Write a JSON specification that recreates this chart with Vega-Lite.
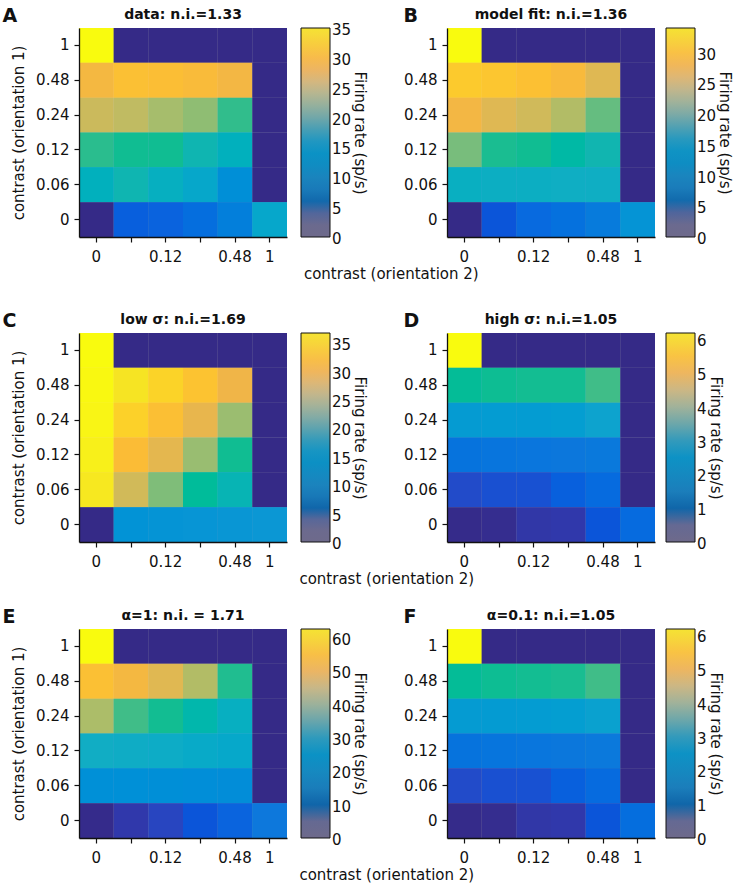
{
"$schema": "https://vega.github.io/schema/vega-lite/v6.json",
"padding": {"left": 2, "top": 7, "right": 8, "bottom": 3},
"background": "white",
"datasets": {
"A": [
{"o1":"1","o2":"0","rate":35},{"o1":"1","o2":"0.06","rate":0},{"o1":"1","o2":"0.12","rate":0},{"o1":"1","o2":"0.24","rate":0},{"o1":"1","o2":"0.48","rate":0},{"o1":"1","o2":"1","rate":0},
{"o1":"0.48","o2":"0","rate":28.7},{"o1":"0.48","o2":"0.06","rate":30.1},{"o1":"0.48","o2":"0.12","rate":29.9},{"o1":"0.48","o2":"0.24","rate":29.4},{"o1":"0.48","o2":"0.48","rate":28.4},{"o1":"0.48","o2":"1","rate":0},
{"o1":"0.24","o2":"0","rate":25.2},{"o1":"0.24","o2":"0.06","rate":24.5},{"o1":"0.24","o2":"0.12","rate":23.1},{"o1":"0.24","o2":"0.24","rate":22.0},{"o1":"0.24","o2":"0.48","rate":18.5},{"o1":"0.24","o2":"1","rate":0},
{"o1":"0.12","o2":"0","rate":18.2},{"o1":"0.12","o2":"0.06","rate":17.5},{"o1":"0.12","o2":"0.12","rate":17.5},{"o1":"0.12","o2":"0.24","rate":15.7},{"o1":"0.12","o2":"0.48","rate":14.7},{"o1":"0.12","o2":"1","rate":0},
{"o1":"0.06","o2":"0","rate":14.7},{"o1":"0.06","o2":"0.06","rate":15.7},{"o1":"0.06","o2":"0.12","rate":14.4},{"o1":"0.06","o2":"0.24","rate":13.0},{"o1":"0.06","o2":"0.48","rate":9.5},{"o1":"0.06","o2":"1","rate":0},
{"o1":"0","o2":"0","rate":0},{"o1":"0","o2":"0.06","rate":4.5},{"o1":"0","o2":"0.12","rate":4.9},{"o1":"0","o2":"0.24","rate":5.9},{"o1":"0","o2":"0.48","rate":7.7},{"o1":"0","o2":"1","rate":12.9}
],
"B": [
{"o1":"1","o2":"0","rate":34},{"o1":"1","o2":"0.06","rate":0},{"o1":"1","o2":"0.12","rate":0},{"o1":"1","o2":"0.24","rate":0},{"o1":"1","o2":"0.48","rate":0},{"o1":"1","o2":"1","rate":0},
{"o1":"0.48","o2":"0","rate":30.2},{"o1":"0.48","o2":"0.06","rate":29.8},{"o1":"0.48","o2":"0.12","rate":29.3},{"o1":"0.48","o2":"0.24","rate":28.4},{"o1":"0.48","o2":"0.48","rate":25.8},{"o1":"0.48","o2":"1","rate":0},
{"o1":"0.24","o2":"0","rate":27.6},{"o1":"0.24","o2":"0.06","rate":25.8},{"o1":"0.24","o2":"0.12","rate":24.8},{"o1":"0.24","o2":"0.24","rate":23.1},{"o1":"0.24","o2":"0.48","rate":19.7},{"o1":"0.24","o2":"1","rate":0},
{"o1":"0.12","o2":"0","rate":20.4},{"o1":"0.12","o2":"0.06","rate":17.2},{"o1":"0.12","o2":"0.12","rate":17.0},{"o1":"0.12","o2":"0.24","rate":16.0},{"o1":"0.12","o2":"0.48","rate":15.3},{"o1":"0.12","o2":"1","rate":0},
{"o1":"0.06","o2":"0","rate":13.9},{"o1":"0.06","o2":"0.06","rate":13.8},{"o1":"0.06","o2":"0.12","rate":13.8},{"o1":"0.06","o2":"0.24","rate":13.7},{"o1":"0.06","o2":"0.48","rate":13.7},{"o1":"0.06","o2":"1","rate":0},
{"o1":"0","o2":"0","rate":0},{"o1":"0","o2":"0.06","rate":3.4},{"o1":"0","o2":"0.12","rate":5.4},{"o1":"0","o2":"0.24","rate":6.1},{"o1":"0","o2":"0.48","rate":7.1},{"o1":"0","o2":"1","rate":9.9}
],
"C": [
{"o1":"1","o2":"0","rate":36.8},{"o1":"1","o2":"0.06","rate":0},{"o1":"1","o2":"0.12","rate":0},{"o1":"1","o2":"0.24","rate":0},{"o1":"1","o2":"0.48","rate":0},{"o1":"1","o2":"1","rate":0},
{"o1":"0.48","o2":"0","rate":36.6},{"o1":"0.48","o2":"0.06","rate":35.0},{"o1":"0.48","o2":"0.12","rate":33.5},{"o1":"0.48","o2":"0.24","rate":32.0},{"o1":"0.48","o2":"0.48","rate":29.4},{"o1":"0.48","o2":"1","rate":0},
{"o1":"0.24","o2":"0","rate":36.3},{"o1":"0.24","o2":"0.06","rate":33.3},{"o1":"0.24","o2":"0.12","rate":31.6},{"o1":"0.24","o2":"0.24","rate":28.7},{"o1":"0.24","o2":"0.48","rate":23.7},{"o1":"0.24","o2":"1","rate":0},
{"o1":"0.12","o2":"0","rate":35.9},{"o1":"0.12","o2":"0.06","rate":31.3},{"o1":"0.12","o2":"0.12","rate":28.4},{"o1":"0.12","o2":"0.24","rate":23.6},{"o1":"0.12","o2":"0.48","rate":18.4},{"o1":"0.12","o2":"1","rate":0},
{"o1":"0.06","o2":"0","rate":35.3},{"o1":"0.06","o2":"0.06","rate":26.9},{"o1":"0.06","o2":"0.12","rate":22.4},{"o1":"0.06","o2":"0.24","rate":18.0},{"o1":"0.06","o2":"0.48","rate":16.2},{"o1":"0.06","o2":"1","rate":0},
{"o1":"0","o2":"0","rate":0},{"o1":"0","o2":"0.06","rate":10.5},{"o1":"0","o2":"0.12","rate":10.7},{"o1":"0","o2":"0.24","rate":10.8},{"o1":"0","o2":"0.48","rate":10.9},{"o1":"0","o2":"1","rate":11.0}
],
"D": [
{"o1":"1","o2":"0","rate":6.18},{"o1":"1","o2":"0.06","rate":0},{"o1":"1","o2":"0.12","rate":0},{"o1":"1","o2":"0.24","rate":0},{"o1":"1","o2":"0.48","rate":0},{"o1":"1","o2":"1","rate":0},
{"o1":"0.48","o2":"0","rate":3.05},{"o1":"0.48","o2":"0.06","rate":3.08},{"o1":"0.48","o2":"0.12","rate":3.1},{"o1":"0.48","o2":"0.24","rate":3.1},{"o1":"0.48","o2":"0.48","rate":3.4},{"o1":"0.48","o2":"1","rate":0},
{"o1":"0.24","o2":"0","rate":1.95},{"o1":"0.24","o2":"0.06","rate":1.97},{"o1":"0.24","o2":"0.12","rate":1.98},{"o1":"0.24","o2":"0.24","rate":2.02},{"o1":"0.24","o2":"0.48","rate":2.15},{"o1":"0.24","o2":"1","rate":0},
{"o1":"0.12","o2":"0","rate":1.15},{"o1":"0.12","o2":"0.06","rate":1.18},{"o1":"0.12","o2":"0.12","rate":1.2},{"o1":"0.12","o2":"0.24","rate":1.22},{"o1":"0.12","o2":"0.48","rate":1.26},{"o1":"0.12","o2":"1","rate":0},
{"o1":"0.06","o2":"0","rate":0.5},{"o1":"0.06","o2":"0.06","rate":0.56},{"o1":"0.06","o2":"0.12","rate":0.57},{"o1":"0.06","o2":"0.24","rate":0.8},{"o1":"0.06","o2":"0.48","rate":1.0},{"o1":"0.06","o2":"1","rate":0},
{"o1":"0","o2":"0","rate":0.02},{"o1":"0","o2":"0.06","rate":0.06},{"o1":"0","o2":"0.12","rate":0.25},{"o1":"0","o2":"0.24","rate":0.28},{"o1":"0","o2":"0.48","rate":0.62},{"o1":"0","o2":"1","rate":1.0}
],
"E": [
{"o1":"1","o2":"0","rate":62.7},{"o1":"1","o2":"0.06","rate":0},{"o1":"1","o2":"0.12","rate":0},{"o1":"1","o2":"0.24","rate":0},{"o1":"1","o2":"0.48","rate":0},{"o1":"1","o2":"1","rate":0},
{"o1":"0.48","o2":"0","rate":53.9},{"o1":"0.48","o2":"0.06","rate":51.4},{"o1":"0.48","o2":"0.12","rate":47.7},{"o1":"0.48","o2":"0.24","rate":42.6},{"o1":"0.48","o2":"0.48","rate":32.0},{"o1":"0.48","o2":"1","rate":0},
{"o1":"0.24","o2":"0","rate":42.0},{"o1":"0.24","o2":"0.06","rate":34.5},{"o1":"0.24","o2":"0.12","rate":31.4},{"o1":"0.24","o2":"0.24","rate":28.8},{"o1":"0.24","o2":"0.48","rate":25.7},{"o1":"0.24","o2":"1","rate":0},
{"o1":"0.12","o2":"0","rate":25.0},{"o1":"0.12","o2":"0.06","rate":24.8},{"o1":"0.12","o2":"0.12","rate":24.6},{"o1":"0.12","o2":"0.24","rate":24.0},{"o1":"0.12","o2":"0.48","rate":23.4},{"o1":"0.12","o2":"1","rate":0},
{"o1":"0.06","o2":"0","rate":17.4},{"o1":"0.06","o2":"0.06","rate":17.2},{"o1":"0.06","o2":"0.12","rate":17.0},{"o1":"0.06","o2":"0.24","rate":16.8},{"o1":"0.06","o2":"0.48","rate":16.6},{"o1":"0.06","o2":"1","rate":0},
{"o1":"0","o2":"0","rate":0.3},{"o1":"0","o2":"0.06","rate":2.8},{"o1":"0","o2":"0.12","rate":4.4},{"o1":"0","o2":"0.24","rate":6.3},{"o1":"0","o2":"0.48","rate":8.8},{"o1":"0","o2":"1","rate":12.5}
],
"F": [
{"o1":"1","o2":"0","rate":6.18},{"o1":"1","o2":"0.06","rate":0},{"o1":"1","o2":"0.12","rate":0},{"o1":"1","o2":"0.24","rate":0},{"o1":"1","o2":"0.48","rate":0},{"o1":"1","o2":"1","rate":0},
{"o1":"0.48","o2":"0","rate":3.05},{"o1":"0.48","o2":"0.06","rate":3.08},{"o1":"0.48","o2":"0.12","rate":3.1},{"o1":"0.48","o2":"0.24","rate":3.12},{"o1":"0.48","o2":"0.48","rate":3.4},{"o1":"0.48","o2":"1","rate":0},
{"o1":"0.24","o2":"0","rate":1.95},{"o1":"0.24","o2":"0.06","rate":1.96},{"o1":"0.24","o2":"0.12","rate":1.98},{"o1":"0.24","o2":"0.24","rate":2.02},{"o1":"0.24","o2":"0.48","rate":2.12},{"o1":"0.24","o2":"1","rate":0},
{"o1":"0.12","o2":"0","rate":1.14},{"o1":"0.12","o2":"0.06","rate":1.17},{"o1":"0.12","o2":"0.12","rate":1.19},{"o1":"0.12","o2":"0.24","rate":1.21},{"o1":"0.12","o2":"0.48","rate":1.25},{"o1":"0.12","o2":"1","rate":0},
{"o1":"0.06","o2":"0","rate":0.5},{"o1":"0.06","o2":"0.06","rate":0.56},{"o1":"0.06","o2":"0.12","rate":0.57},{"o1":"0.06","o2":"0.24","rate":0.8},{"o1":"0.06","o2":"0.48","rate":1.0},{"o1":"0.06","o2":"1","rate":0},
{"o1":"0","o2":"0","rate":0.02},{"o1":"0","o2":"0.06","rate":0.06},{"o1":"0","o2":"0.12","rate":0.25},{"o1":"0","o2":"0.24","rate":0.28},{"o1":"0","o2":"0.48","rate":0.62},{"o1":"0","o2":"1","rate":1.05}
]
},
"config": {
"font": "DejaVu Sans",
"view": {"stroke": null},
"axis": {"labelFont": "DejaVu Sans", "labelFontSize": 15, "labelColor": "#111", "titleFont": "DejaVu Sans", "titleFontSize": 15, "titleFontWeight": "normal", "titleColor": "#111", "domainColor": "#111", "tickColor": "#111", "tickSize": 5, "labelPadding": 5, "domainWidth": 1.3, "tickWidth": 1.2, "grid": false},
"axisX": {"labelAngle": 0, "title": null, "labelPadding": 7},
"axisY": {"titlePadding": 9},
"legend": {"gradientLength": 209, "gradientThickness": 29, "gradientStrokeColor": "#111", "gradientStrokeWidth": 1, "labelFont": "DejaVu Sans", "labelFontSize": 15, "labelColor": "#111", "labelOffset": 4, "labelOverlap": false, "titleOrient": "right", "titleAngle": 90, "titleAnchor": "middle", "titleFont": "DejaVu Sans", "titleFontSize": 15, "titleFontWeight": "normal", "titleColor": "#111", "titlePadding": 1, "offset": 14, "padding": 0},
"title": {"font": "DejaVu Sans", "color": "#111"}
},
"resolve": {"scale": {"color": "independent", "fill": "independent"}, "legend": {"color": "independent", "fill": "independent"}},
"spacing": 30,
"vconcat": [
{
"hconcat": [
{
"title": {"text": "A", "anchor": "start", "frame": "bounds", "fontSize": 19, "fontWeight": "bold", "offset": -18, "dx": -9},
"resolve": {"scale": {"color": "independent", "fill": "independent"}},
"vconcat": [{
"data": {"name": "A"},
"title": {"text": "data: n.i.=1.33", "fontSize": 14, "fontWeight": "bold", "anchor": "middle", "frame": "group", "offset": 6},
"width": 208, "height": 209,
"encoding": {
"x": {"field": "o2", "type": "ordinal", "scale": {"domain": ["0","0.06","0.12","0.24","0.48","1"]}, "axis": {"labelExpr": "datum.value=='0.06'||datum.value=='0.24'?'':datum.label"}},
"y": {"field": "o1", "type": "ordinal", "scale": {"domain": ["1","0.48","0.24","0.12","0.06","0"]}, "axis": {"title": "contrast (orientation 1)"}}
},
"layer": [
{"mark": "rect", "encoding": {"fill": {"field": "rate", "type": "quantitative", "scale": {"zero": false, "nice": false, "domain": [0,1.75,3.5,5.25,7,8.75,10.5,12.25,14,15.75,17.5,19.25,21,22.75,24.5,26.25,28,29.75,31.5,33.25,35], "range": ["#6e6a8b","#6d6a8d","#5f6896","#0f62a6","#1673b4","#1c80bc","#1a86be","#0e8dc3","#0b92c5","#1b96c2","#3b9cb8","#62a4ae","#85aba5","#a3b29a","#bfb68e","#d8b77d","#ecb563","#f7b94c","#f9c541","#f6d53b","#f5e333"]}, "legend": {"title": "Firing rate (sp/s)", "values": [0,5,10,15,20,25,30,35], "encode": {"labels": {"update": {"baseline": {"value": "middle"}, "dy": {"value": 2}}}}}}}},
{"mark": "rect", "encoding": {"color": {"field": "rate", "type": "quantitative", "scale": {"zero": false, "nice": false, "domain": [0,1.75,3.5,5.25,7,8.75,10.5,12.25,14,15.75,17.5,19.25,21,22.75,24.5,26.25,28,29.75,31.5,33.25,35], "range": ["#352a87","#2f3aaf","#0b55d9","#0c67df","#0d78dc","#0b88d9","#0c97d4","#0ea3ce","#12adc4","#11b5b0","#10bd92","#40bd88","#78bd7c","#a0bd6f","#c0bb62","#dcb855","#f0b548","#fbbc36","#fccf2a","#f6e423","#f9fb0e"]}, "legend": null}}}
]
}]
},
{
"title": {"text": "B", "anchor": "start", "frame": "bounds", "fontSize": 19, "fontWeight": "bold", "offset": -18, "dx": 0},
"resolve": {"scale": {"color": "independent", "fill": "independent"}},
"vconcat": [{
"data": {"name": "B"},
"title": {"text": "model fit: n.i.=1.36", "fontSize": 14, "fontWeight": "bold", "anchor": "middle", "frame": "group", "offset": 6},
"width": 208, "height": 209,
"encoding": {
"x": {"field": "o2", "type": "ordinal", "scale": {"domain": ["0","0.06","0.12","0.24","0.48","1"]}, "axis": {"labelExpr": "datum.value=='0.06'||datum.value=='0.24'?'':datum.label"}},
"y": {"field": "o1", "type": "ordinal", "scale": {"domain": ["1","0.48","0.24","0.12","0.06","0"]}, "axis": {"title": null}}
},
"layer": [
{"mark": "rect", "encoding": {"fill": {"field": "rate", "type": "quantitative", "scale": {"zero": false, "nice": false, "domain": [0,1.7,3.4,5.1,6.8,8.5,10.2,11.9,13.6,15.3,17,18.7,20.4,22.1,23.8,25.5,27.2,28.9,30.6,32.3,34], "range": ["#6e6a8b","#6d6a8d","#5f6896","#0f62a6","#1673b4","#1c80bc","#1a86be","#0e8dc3","#0b92c5","#1b96c2","#3b9cb8","#62a4ae","#85aba5","#a3b29a","#bfb68e","#d8b77d","#ecb563","#f7b94c","#f9c541","#f6d53b","#f5e333"]}, "legend": {"title": "Firing rate (sp/s)", "offset": 11, "values": [0,5,10,15,20,25,30], "encode": {"labels": {"update": {"baseline": {"value": "middle"}, "dy": {"value": 2}}}}}}}},
{"mark": "rect", "encoding": {"color": {"field": "rate", "type": "quantitative", "scale": {"zero": false, "nice": false, "domain": [0,1.7,3.4,5.1,6.8,8.5,10.2,11.9,13.6,15.3,17,18.7,20.4,22.1,23.8,25.5,27.2,28.9,30.6,32.3,34], "range": ["#352a87","#2f3aaf","#0b55d9","#0c67df","#0d78dc","#0b88d9","#0c97d4","#0ea3ce","#12adc4","#11b5b0","#10bd92","#40bd88","#78bd7c","#a0bd6f","#c0bb62","#dcb855","#f0b548","#fbbc36","#fccf2a","#f6e423","#f9fb0e"]}, "legend": null}}}
]
}]
}
],
"spacing": 36,
"resolve": {"scale": {"color": "independent", "fill": "independent"}, "legend": {"color": "independent", "fill": "independent"}},
"title": {"text": "contrast (orientation 2)", "orient": "bottom", "anchor": "middle", "fontSize": 15, "fontWeight": "normal", "offset": 3, "dx": 24}
},
{
"spacing": 21,
"resolve": {"scale": {"color": "independent", "fill": "independent"}, "legend": {"color": "independent", "fill": "independent"}},
"vconcat": [
{
"hconcat": [
{
"title": {"text": "C", "anchor": "start", "frame": "bounds", "fontSize": 19, "fontWeight": "bold", "offset": -18, "dx": -9},
"resolve": {"scale": {"color": "independent", "fill": "independent"}},
"vconcat": [{
"data": {"name": "C"},
"title": {"text": "low σ: n.i.=1.69", "fontSize": 14, "fontWeight": "bold", "anchor": "middle", "frame": "group", "offset": 6},
"width": 208, "height": 209,
"encoding": {
"x": {"field": "o2", "type": "ordinal", "scale": {"domain": ["0","0.06","0.12","0.24","0.48","1"]}, "axis": {"labelExpr": "datum.value=='0.06'||datum.value=='0.24'?'':datum.label"}},
"y": {"field": "o1", "type": "ordinal", "scale": {"domain": ["1","0.48","0.24","0.12","0.06","0"]}, "axis": {"title": "contrast (orientation 1)"}}
},
"layer": [
{"mark": "rect", "encoding": {"fill": {"field": "rate", "type": "quantitative", "scale": {"zero": false, "nice": false, "domain": [0,1.84,3.68,5.52,7.36,9.2,11.04,12.88,14.72,16.56,18.4,20.24,22.08,23.92,25.76,27.6,29.44,31.28,33.12,34.96,36.8], "range": ["#6e6a8b","#6d6a8d","#5f6896","#0f62a6","#1673b4","#1c80bc","#1a86be","#0e8dc3","#0b92c5","#1b96c2","#3b9cb8","#62a4ae","#85aba5","#a3b29a","#bfb68e","#d8b77d","#ecb563","#f7b94c","#f9c541","#f6d53b","#f5e333"]}, "legend": {"title": "Firing rate (sp/s)", "values": [0,5,10,15,20,25,30,35], "encode": {"labels": {"update": {"baseline": {"value": "middle"}, "dy": {"value": 2}}}}}}}},
{"mark": "rect", "encoding": {"color": {"field": "rate", "type": "quantitative", "scale": {"zero": false, "nice": false, "domain": [0,1.84,3.68,5.52,7.36,9.2,11.04,12.88,14.72,16.56,18.4,20.24,22.08,23.92,25.76,27.6,29.44,31.28,33.12,34.96,36.8], "range": ["#352a87","#2f3aaf","#0b55d9","#0c67df","#0d78dc","#0b88d9","#0c97d4","#0ea3ce","#12adc4","#11b5b0","#10bd92","#40bd88","#78bd7c","#a0bd6f","#c0bb62","#dcb855","#f0b548","#fbbc36","#fccf2a","#f6e423","#f9fb0e"]}, "legend": null}}}
]
}]
},
{
"title": {"text": "D", "anchor": "start", "frame": "bounds", "fontSize": 19, "fontWeight": "bold", "offset": -18, "dx": 0},
"resolve": {"scale": {"color": "independent", "fill": "independent"}},
"vconcat": [{
"data": {"name": "D"},
"title": {"text": "high σ: n.i.=1.05", "fontSize": 14, "fontWeight": "bold", "anchor": "middle", "frame": "group", "offset": 6},
"width": 208, "height": 209,
"encoding": {
"x": {"field": "o2", "type": "ordinal", "scale": {"domain": ["0","0.06","0.12","0.24","0.48","1"]}, "axis": {"labelExpr": "datum.value=='0.06'||datum.value=='0.24'?'':datum.label"}},
"y": {"field": "o1", "type": "ordinal", "scale": {"domain": ["1","0.48","0.24","0.12","0.06","0"]}, "axis": {"title": null}}
},
"layer": [
{"mark": "rect", "encoding": {"fill": {"field": "rate", "type": "quantitative", "scale": {"zero": false, "nice": false, "domain": [0,0.309,0.618,0.927,1.236,1.545,1.854,2.163,2.472,2.781,3.09,3.399,3.708,4.017,4.326,4.635,4.944,5.253,5.562,5.871,6.18], "range": ["#6e6a8b","#6d6a8d","#5f6896","#0f62a6","#1673b4","#1c80bc","#1a86be","#0e8dc3","#0b92c5","#1b96c2","#3b9cb8","#62a4ae","#85aba5","#a3b29a","#bfb68e","#d8b77d","#ecb563","#f7b94c","#f9c541","#f6d53b","#f5e333"]}, "legend": {"title": "Firing rate (sp/s)", "offset": 11, "values": [0,1,2,3,4,5,6], "encode": {"labels": {"update": {"baseline": {"value": "middle"}, "dy": {"value": 2}}}}}}}},
{"mark": "rect", "encoding": {"color": {"field": "rate", "type": "quantitative", "scale": {"zero": false, "nice": false, "domain": [0,0.309,0.618,0.927,1.236,1.545,1.854,2.163,2.472,2.781,3.09,3.399,3.708,4.017,4.326,4.635,4.944,5.253,5.562,5.871,6.18], "range": ["#352a87","#2f3aaf","#0b55d9","#0c67df","#0d78dc","#0b88d9","#0c97d4","#0ea3ce","#12adc4","#11b5b0","#10bd92","#40bd88","#78bd7c","#a0bd6f","#c0bb62","#dcb855","#f0b548","#fbbc36","#fccf2a","#f6e423","#f9fb0e"]}, "legend": null}}}
]
}]
}
],
"spacing": 36,
"resolve": {"scale": {"color": "independent", "fill": "independent"}, "legend": {"color": "independent", "fill": "independent"}},
"title": {"text": "contrast (orientation 2)", "orient": "bottom", "anchor": "middle", "fontSize": 15, "fontWeight": "normal", "offset": 3, "dx": 24}
},
{
"hconcat": [
{
"title": {"text": "E", "anchor": "start", "frame": "bounds", "fontSize": 19, "fontWeight": "bold", "offset": -18, "dx": -9},
"resolve": {"scale": {"color": "independent", "fill": "independent"}},
"vconcat": [{
"data": {"name": "E"},
"title": {"text": "α=1: n.i. = 1.71", "fontSize": 14, "fontWeight": "bold", "anchor": "middle", "frame": "group", "offset": 6},
"width": 208, "height": 209,
"encoding": {
"x": {"field": "o2", "type": "ordinal", "scale": {"domain": ["0","0.06","0.12","0.24","0.48","1"]}, "axis": {"labelExpr": "datum.value=='0.06'||datum.value=='0.24'?'':datum.label"}},
"y": {"field": "o1", "type": "ordinal", "scale": {"domain": ["1","0.48","0.24","0.12","0.06","0"]}, "axis": {"title": "contrast (orientation 1)"}}
},
"layer": [
{"mark": "rect", "encoding": {"fill": {"field": "rate", "type": "quantitative", "scale": {"zero": false, "nice": false, "domain": [0,3.135,6.27,9.405,12.54,15.675,18.81,21.945,25.08,28.215,31.35,34.485,37.62,40.755,43.89,47.025,50.16,53.295,56.43,59.565,62.7], "range": ["#6e6a8b","#6d6a8d","#5f6896","#0f62a6","#1673b4","#1c80bc","#1a86be","#0e8dc3","#0b92c5","#1b96c2","#3b9cb8","#62a4ae","#85aba5","#a3b29a","#bfb68e","#d8b77d","#ecb563","#f7b94c","#f9c541","#f6d53b","#f5e333"]}, "legend": {"title": "Firing rate (sp/s)", "values": [0,10,20,30,40,50,60], "encode": {"labels": {"update": {"baseline": {"value": "middle"}, "dy": {"value": 2}}}}}}}},
{"mark": "rect", "encoding": {"color": {"field": "rate", "type": "quantitative", "scale": {"zero": false, "nice": false, "domain": [0,3.135,6.27,9.405,12.54,15.675,18.81,21.945,25.08,28.215,31.35,34.485,37.62,40.755,43.89,47.025,50.16,53.295,56.43,59.565,62.7], "range": ["#352a87","#2f3aaf","#0b55d9","#0c67df","#0d78dc","#0b88d9","#0c97d4","#0ea3ce","#12adc4","#11b5b0","#10bd92","#40bd88","#78bd7c","#a0bd6f","#c0bb62","#dcb855","#f0b548","#fbbc36","#fccf2a","#f6e423","#f9fb0e"]}, "legend": null}}}
]
}]
},
{
"title": {"text": "F", "anchor": "start", "frame": "bounds", "fontSize": 19, "fontWeight": "bold", "offset": -18, "dx": 0},
"resolve": {"scale": {"color": "independent", "fill": "independent"}},
"vconcat": [{
"data": {"name": "F"},
"title": {"text": "α=0.1: n.i.=1.05", "fontSize": 14, "fontWeight": "bold", "anchor": "middle", "frame": "group", "offset": 6},
"width": 208, "height": 209,
"encoding": {
"x": {"field": "o2", "type": "ordinal", "scale": {"domain": ["0","0.06","0.12","0.24","0.48","1"]}, "axis": {"labelExpr": "datum.value=='0.06'||datum.value=='0.24'?'':datum.label"}},
"y": {"field": "o1", "type": "ordinal", "scale": {"domain": ["1","0.48","0.24","0.12","0.06","0"]}, "axis": {"title": null}}
},
"layer": [
{"mark": "rect", "encoding": {"fill": {"field": "rate", "type": "quantitative", "scale": {"zero": false, "nice": false, "domain": [0,0.309,0.618,0.927,1.236,1.545,1.854,2.163,2.472,2.781,3.09,3.399,3.708,4.017,4.326,4.635,4.944,5.253,5.562,5.871,6.18], "range": ["#6e6a8b","#6d6a8d","#5f6896","#0f62a6","#1673b4","#1c80bc","#1a86be","#0e8dc3","#0b92c5","#1b96c2","#3b9cb8","#62a4ae","#85aba5","#a3b29a","#bfb68e","#d8b77d","#ecb563","#f7b94c","#f9c541","#f6d53b","#f5e333"]}, "legend": {"title": "Firing rate (sp/s)", "offset": 11, "values": [0,1,2,3,4,5,6], "encode": {"labels": {"update": {"baseline": {"value": "middle"}, "dy": {"value": 2}}}}}}}},
{"mark": "rect", "encoding": {"color": {"field": "rate", "type": "quantitative", "scale": {"zero": false, "nice": false, "domain": [0,0.309,0.618,0.927,1.236,1.545,1.854,2.163,2.472,2.781,3.09,3.399,3.708,4.017,4.326,4.635,4.944,5.253,5.562,5.871,6.18], "range": ["#352a87","#2f3aaf","#0b55d9","#0c67df","#0d78dc","#0b88d9","#0c97d4","#0ea3ce","#12adc4","#11b5b0","#10bd92","#40bd88","#78bd7c","#a0bd6f","#c0bb62","#dcb855","#f0b548","#fbbc36","#fccf2a","#f6e423","#f9fb0e"]}, "legend": null}}}
]
}]
}
],
"spacing": 36,
"resolve": {"scale": {"color": "independent", "fill": "independent"}, "legend": {"color": "independent", "fill": "independent"}},
"title": {"text": "contrast (orientation 2)", "orient": "bottom", "anchor": "middle", "fontSize": 15, "fontWeight": "normal", "offset": 3, "dx": 24}
}
]
}
]
}
